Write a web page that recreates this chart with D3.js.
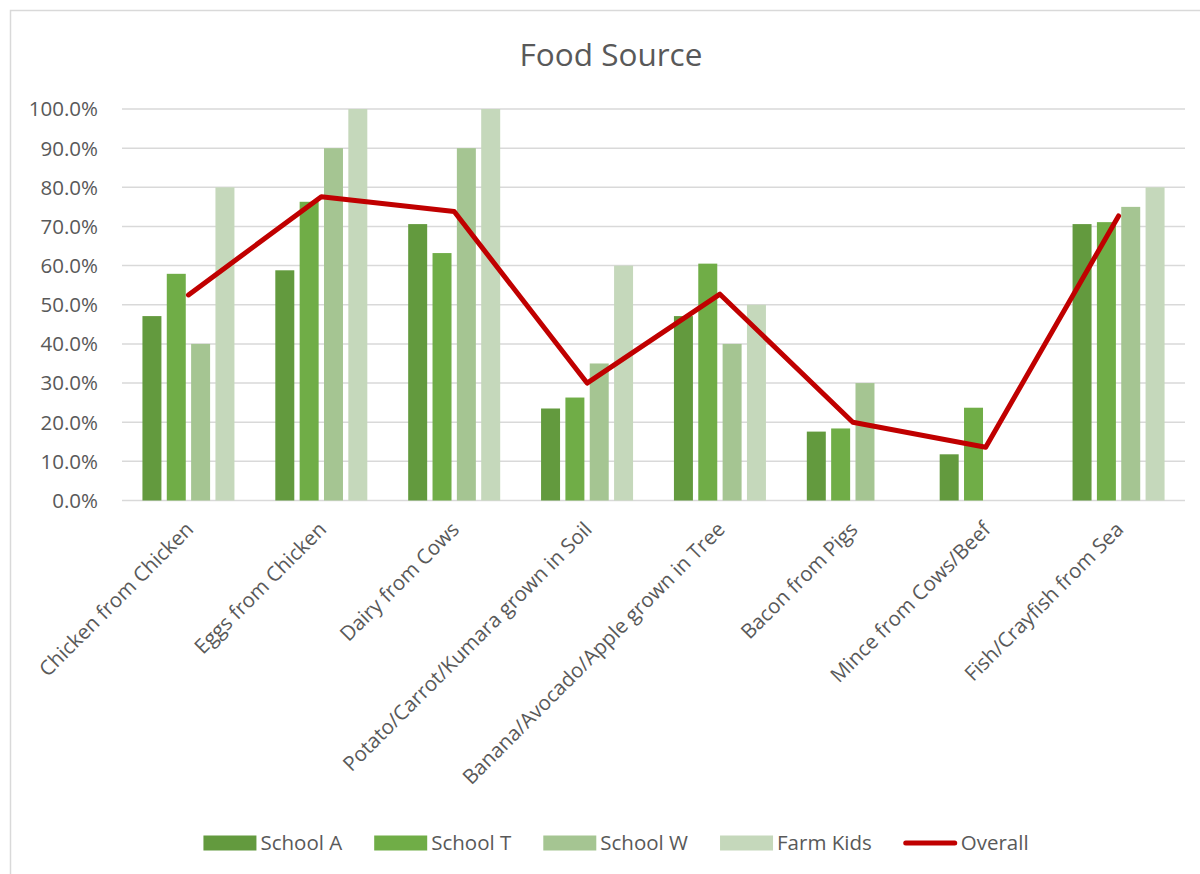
<!DOCTYPE html>
<html>
<head>
<meta charset="utf-8">
<script src="https://cdn.jsdelivr.net/npm/d3@7"></script>
<style>
  body { margin: 0; background: #fff; }
  text { font-family: "Open Sans", sans-serif; fill: #595959; }
</style>
</head>
<body>
<script>
// Chart data
const categories = [
  "Chicken from Chicken",
  "Eggs from Chicken",
  "Dairy from Cows",
  "Potato/Carrot/Kumara grown in Soil",
  "Banana/Avocado/Apple grown in Tree",
  "Bacon from Pigs",
  "Mince from Cows/Beef",
  "Fish/Crayfish from Sea"
];
const seriesNames = ["School A", "School T", "School W", "Farm Kids"];
const schoolA = [0.471, 0.588, 0.706, 0.235, 0.471, 0.176, 0.118, 0.706];
const schoolT = [0.579, 0.763, 0.632, 0.263, 0.605, 0.184, 0.237, 0.711];
const schoolW = [0.40, 0.90, 0.90, 0.35, 0.40, 0.30, 0, 0.75];
const farmKids = [0.80, 1.00, 1.00, 0.60, 0.50, 0, 0, 0.80];
const overall = [0.525, 0.776, 0.738, 0.30, 0.527, 0.20, 0.136, 0.727];
const yTicks = [0, 0.1, 0.2, 0.3, 0.4, 0.5, 0.6, 0.7, 0.8, 0.9, 1.0];

const barSeries = [schoolA, schoolT, schoolW, farmKids];
const colors = ["#639a3e", "#70ad47", "#a5c592", "#c5d8bb"];
const lineColor = "#c00000";

const width = 1200, height = 874;
const plotLeft = 122, plotRight = 1185, plotTop = 109, plotBottom = 500.5;

const svg = d3.select("body").append("svg")
  .attr("width", width)
  .attr("height", height);

// chart frame (runs off the right and bottom of the picture)
svg.append("rect")
  .attr("x", 10.5).attr("y", 10.5)
  .attr("width", 1200).attr("height", 900)
  .attr("fill", "none")
  .attr("stroke", "#d9d9d9")
  .attr("stroke-width", 1.5);

// title
svg.append("text")
  .attr("x", 611).attr("y", 66)
  .attr("text-anchor", "middle")
  .attr("font-size", "31.5px")
  .text("Food Source");

// scales
const x = d3.scaleBand().domain(categories).range([plotLeft, plotRight]).padding(0);
const y = d3.scaleLinear().domain([0, 1]).range([plotBottom, plotTop]);
const groupW = 92;
const xs = d3.scaleBand().domain(seriesNames)
  .range([-groupW / 2, groupW / 2]).paddingInner(0.22).paddingOuter(0);

// gridlines
svg.append("g").selectAll("line")
  .data(yTicks)
  .join("line")
  .attr("x1", plotLeft).attr("x2", plotRight)
  .attr("y1", d => y(d)).attr("y2", d => y(d))
  .attr("stroke", "#d9d9d9")
  .attr("stroke-width", 1.5);

// y axis labels
svg.append("g").selectAll("text")
  .data(yTicks)
  .join("text")
  .attr("x", 98)
  .attr("y", d => y(d))
  .attr("dy", "0.36em")
  .attr("text-anchor", "end")
  .attr("font-size", "20.5px")
  .text(d => d3.format(".1%")(d));

// bars
barSeries.forEach((vals, si) => {
  svg.append("g").selectAll("rect")
    .data(vals)
    .join("rect")
    .attr("x", (d, i) => x(categories[i]) + x.bandwidth() / 2 + xs(seriesNames[si]))
    .attr("y", d => y(d))
    .attr("width", xs.bandwidth())
    .attr("height", d => plotBottom - y(d))
    .attr("fill", colors[si]);
});

// overall line
const line = d3.line()
  .x((d, i) => x(categories[i]) + x.bandwidth() / 2)
  .y(d => y(d));
svg.append("path")
  .datum(overall)
  .attr("d", line)
  .attr("fill", "none")
  .attr("stroke", lineColor)
  .attr("stroke-width", 5)
  .attr("stroke-linejoin", "round")
  .attr("stroke-linecap", "round");

// x labels, rotated
svg.append("g").selectAll("text")
  .data(categories)
  .join("text")
  .attr("transform", d => `translate(${x(d) + x.bandwidth() / 2 + 1},${plotBottom + 25}) rotate(-45)`)
  .attr("text-anchor", "end")
  .attr("dy", "0.36em")
  .attr("font-size", "20.5px")
  .text(d => d);

// legend
const legendItems = seriesNames.map((n, i) => ({ name: n, color: colors[i], type: "bar" }))
  .concat([{ name: "Overall", color: lineColor, type: "line" }]);
const legend = svg.append("g");
let cursor = 0;
legendItems.forEach(item => {
  const g = legend.append("g").attr("transform", `translate(${cursor},0)`);
  if (item.type === "bar") {
    g.append("rect").attr("x", 0).attr("y", -7.5).attr("width", 53).attr("height", 15).attr("fill", item.color);
  } else {
    g.append("line").attr("x1", 2).attr("x2", 51).attr("y1", 0).attr("y2", 0)
      .attr("stroke", item.color).attr("stroke-width", 5).attr("stroke-linecap", "round");
  }
  const t = g.append("text").attr("x", 57).attr("y", 0).attr("dy", "0.36em")
    .attr("font-size", "20.5px").text(item.name);
  cursor += 57 + t.node().getComputedTextLength() + 32;
});
const legendW = cursor - 32;
legend.attr("transform", `translate(${616 - legendW / 2},843)`);
</script>
</body>
</html>
